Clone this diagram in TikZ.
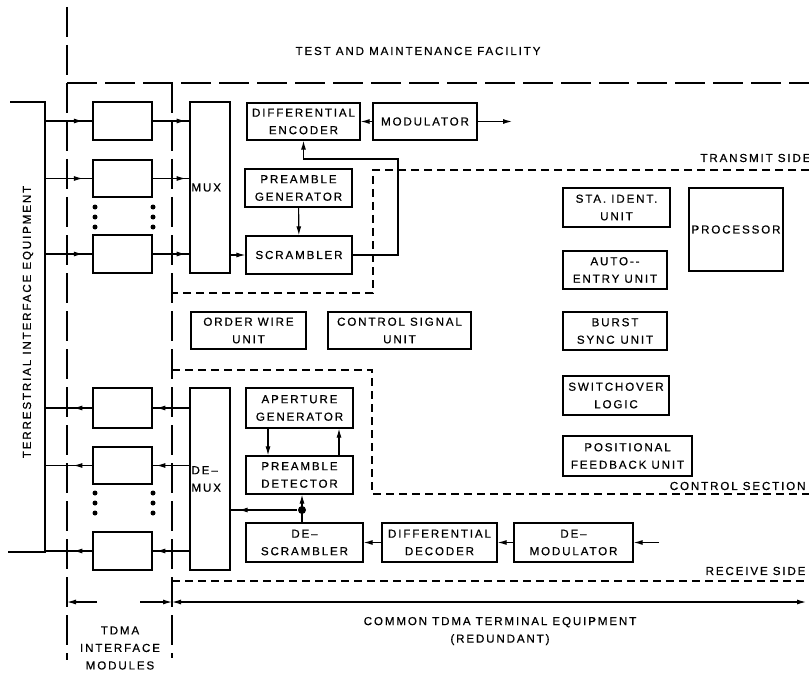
\documentclass[tikz,border=0pt]{standalone}
\usepackage{fontspec}
\setmainfont{Liberation Sans}[LetterSpace=16,FakeBold=0.6]
\usetikzlibrary{arrows.meta,decorations.markings}

\tikzset{
  blk/.style={draw,line width=1.4pt,inner sep=1pt,align=center},
  modbox/.style={blk,minimum width=59pt},
  unit/.style={blk,minimum width=107pt,minimum height=38pt},
  flow/.style={postaction={decorate},decoration={markings,mark=at position #1 with {\arrow{>}}}},
  longdash/.style={dash pattern=on 30pt off 8pt},
  shortdash/.style={dash pattern=on 8pt off 5pt}
}

\begin{document}
\begin{tikzpicture}[x=1pt,y=-1pt,>={Latex[length=9pt,width=5pt]},line width=1.1pt,
    font=\fontsize{11.6}{17.5}\selectfont]
	\useasboundingbox (0,0) rectangle (809,674);

	\node[modbox,minimum height=38]	(tx1)	at (122.5,121)	{};
	\node[modbox,minimum height=37]	(tx2)	at (122.5,178.5)	{};
	\node[modbox,minimum height=38]	(tx3)	at (122.5,254)	{};
	\node[blk,minimum width=40,minimum height=171,text width=37,align=left,inner xsep=1.5pt]	(mux)	at (210,187.5)	{MUX};
	\node[unit,minimum width=113,minimum height=37]	(denc)	at (303.5,121.5)	{DIFFERENTIAL\\ENCODER};
	\node[unit,minimum width=104,minimum height=37]	(modu)	at (425,121.5)	{MODULATOR};
	\node[unit]	(pgen)	at (298.5,188)	{PREAMBLE\\GENERATOR};
	\node[unit,minimum width=106]	(scrm)	at (299,255)	{SCRAMBLER};

	\node[unit,minimum width=115,minimum height=37]	(ordw)	at (248.5,330.5)	{ORDER WIRE\\UNIT};
	\node[unit,minimum width=143,minimum height=37]	(ctls)	at (399.5,330.5)	{CONTROL SIGNAL\\UNIT};

	\node[unit,minimum height=39]	(stid)	at (616.5,207.5)	{STA. IDENT.\\UNIT};
	\node[blk,minimum width=94,minimum height=83]	(proc)	at (736,229.5)	{PROCESSOR};
	\node[unit,minimum width=104]	(auto)	at (615,270)	{AUTO-{}-\\ENTRY UNIT};
	\node[unit,minimum width=104]	(brst)	at (615,331)	{BURST\\SYNC\enspace UNIT};
	\node[unit,minimum width=106,minimum height=39]	(swov)	at (616,395.5)	{SWITCHOVER\\LOGIC};
	\node[unit,minimum width=129,minimum height=40]	(posf)	at (627.5,456)	{POSITIONAL\\FEEDBACK UNIT};

	\node[modbox,minimum height=40]	(rx1)	at (122.5,408)	{};
	\node[modbox,minimum height=37]	(rx2)	at (122.5,465.5)	{};
	\node[modbox,minimum height=38]	(rx3)	at (122.5,551)	{};
	\node[blk,minimum width=40,minimum height=182,text width=37,align=left,inner xsep=1.5pt]	(dmux)	at (210,479)	{DE--\\MUX};
	\node[unit,minimum height=40]	(apgn)	at (299.5,408)	{APERTURE\\GENERATOR};
	\node[unit]	(pdet)	at (299.5,475)	{PREAMBLE\\DETECTOR};
	\node[unit,minimum width=117,minimum height=39]	(dscr)	at (304.5,542.5)	{DE--\\SCRAMBLER};
	\node[unit,minimum width=115,minimum height=39]	(ddec)	at (439.5,542.5)	{DIFFERENTIAL\\DECODER};
	\node[unit,minimum width=119,minimum height=39]	(dmod)	at (573.5,542.5)	{DE--\\MODULATOR};

	\coordinate (tt) at (45,102);
	\coordinate (tb) at (45,552);
	\coordinate (outp) at (512,121.5);
	\coordinate (loop) at (398,159);
	\coordinate (rxin) at (659,542.5);
	\node[circle,fill,inner sep=0pt,minimum size=8]	(jn)	at (302,510)	{};

	\draw (10,102) -- (tt) -- (tb) -- (8,552);
	\draw[longdash] (67,7) -- (67,660);
	\draw[longdash] (67,83) -- (809,83);
	\draw[longdash] (172,83) -- (172,658);
	\draw[shortdash] (809,170) -- (373,170) -- (373,293) -- (172,293);
	\draw[shortdash] (172,370) -- (372,370) -- (372,494) -- (809,494);
	\draw[shortdash] (172,581) -- (809,581);

	\foreach \n in {tx1,tx2,tx3} {
		\draw[flow=0.8] (tt |- \n) -- (\n.west);
		\draw[flow=0.9] (\n.east) -- (\n.east -| mux.west);
	}
	\foreach \n in {rx1,rx2,rx3} {
		\draw[flow=0.9] (\n.east -| dmux.west) -- (\n.east);
		\draw[flow=0.4] (\n.west) -- (tt |- \n);
	}
	\foreach \y in {207,217,227,493,503,513} {
		\fill (95,\y) circle (2.5);
		\fill (153,\y) circle (2.5);
	}

	\path[->]
	(modu)	edge	(denc)
	(modu)	edge	(outp)
	(mux.east |- scrm)	edge	(scrm.west)
	(pgen)	edge	(scrm)
	(rxin)	edge	(dmod)
	(dmod)	edge	(ddec)
	(ddec)	edge	(dscr)
	([xshift=-31.5pt]apgn.south)	edge	([xshift=-31.5pt]pdet.north)
	([xshift=39.5pt]pdet.north)	edge	([xshift=39.5pt]apgn.south)
	(jn |- dscr.north)	edge	(jn |- pdet.south)
	;
	\draw[->] (scrm.east) -| (loop) -| (denc.south);
	\draw[flow=0.88] (jn) -- (jn -| dmux.east);

	\coordinate (dl) at (67,602);
	\coordinate (da) at (97,602);
	\coordinate (db) at (140,602);
	\coordinate (dm) at (172,602);
	\coordinate (dr) at (806,602);
	\draw[->] (da) -- (dl);
	\draw[->] (db) -- (dm);
	\draw[<->] (dm) -- (dr);

	\node (tmf)	at (418,51)	{TEST AND MAINTENANCE FACILITY};
	\node[anchor=east,inner xsep=0pt] (txs)	at (811,158)	{TRANSMIT SIDE};
	\node[anchor=east,inner xsep=0pt] (ctl)	at (806,486)	{CONTROL SECTION};
	\node[anchor=east,inner xsep=0pt] (rxs)	at (806,571)	{RECEIVE SIDE};
	\node[rotate=90] (tie)	at (28,322)	{TERRESTRIAL INTERFACE EQUIPMENT};
	\node[align=center] (tim)	at (120,648)	{TDMA\\INTERFACE\\MODULES};
	\node[align=center] (cte)	at (500,631)	{COMMON TDMA TERMINAL EQUIPMENT\\(REDUNDANT)};
\end{tikzpicture}
\end{document}
